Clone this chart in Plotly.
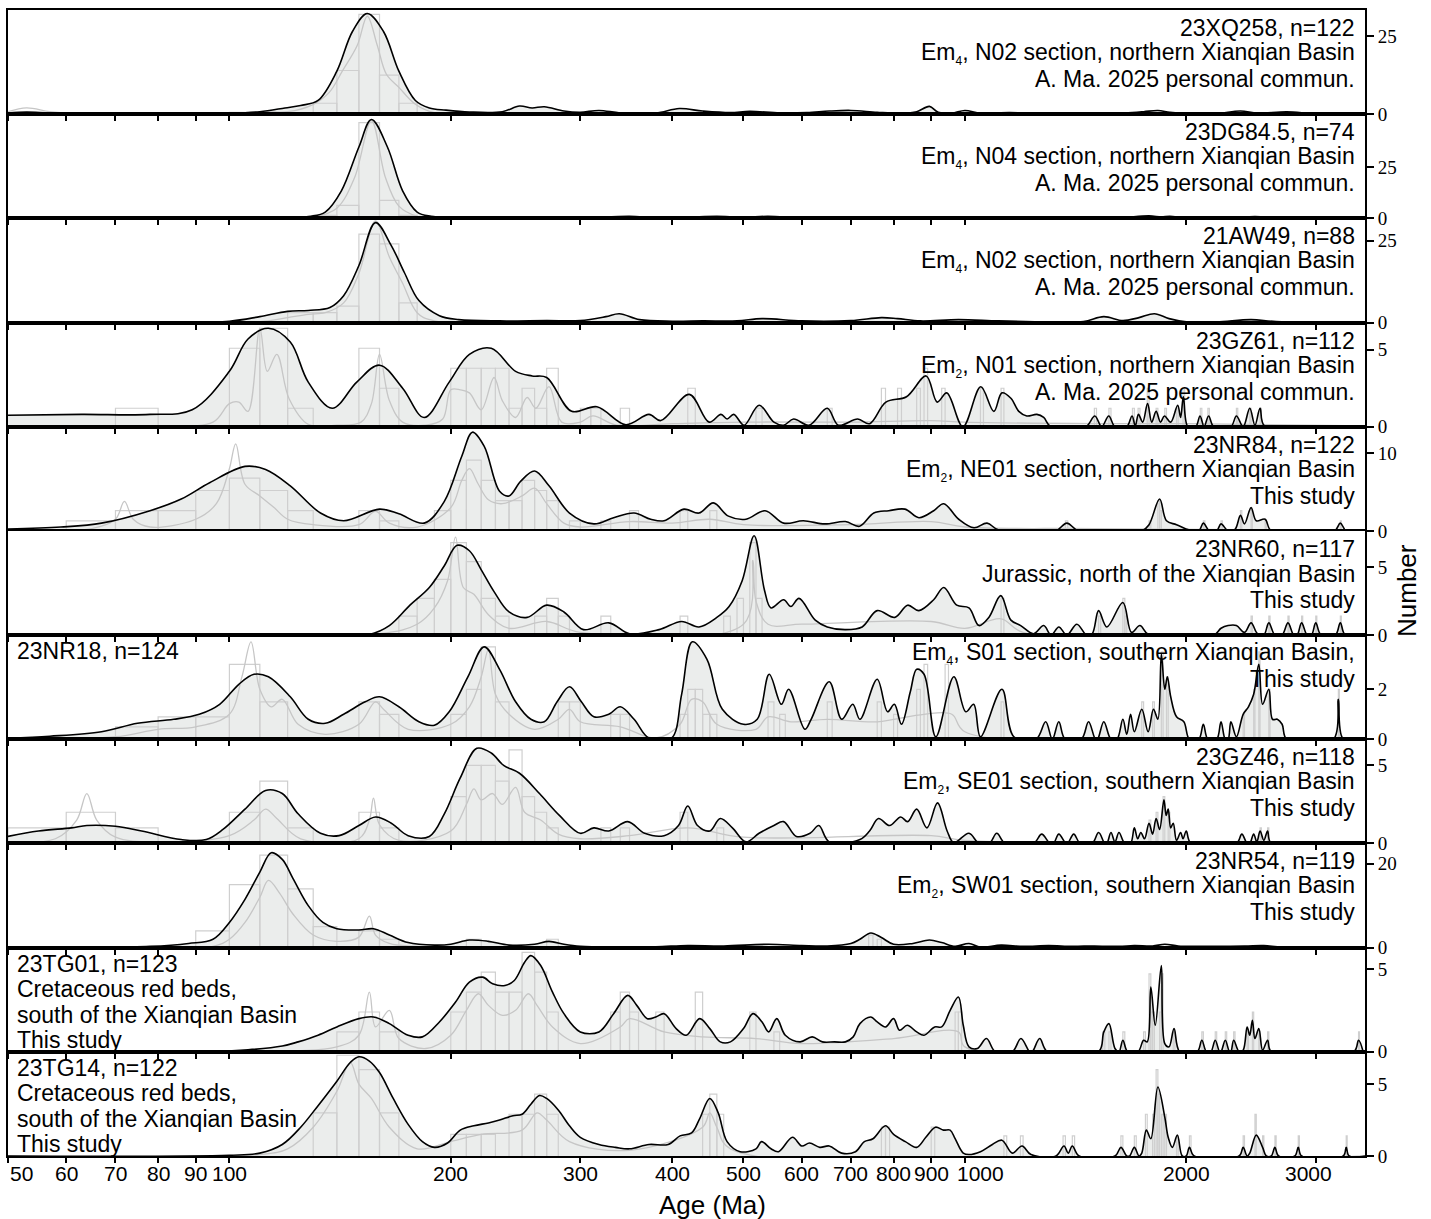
import math
import plotly.graph_objects as go
from plotly.subplots import make_subplots

# ---------------- data: KDE curves (age in Ma, density) ----------------
kde_23XQ258 = [(50,0.4),(53,0.7),(57,0.4),(65,0.15),(80,0.1),(100,0.3),(110,0.8),(119,2.0),(125,2.8),(132,4.4),
               (140,13.8),(147,26.5),(154,32.3),(162,26.5),(170,13.8),(179,4.4),(187,2.0),(197,1.3),(212,0.7),
               (235,0.8),(248,2.6),(258,2.0),(268,2.4),(285,1.0),(300,0.6),(318,1.2),(340,0.4),(380,0.3),(409,1.8),
               (440,1.0),(480,0.5),(510,0.9),(560,0.4),(610,0.5),(654,1.0),(700,1.2),(760,0.6),(820,0.3),(860,0.8),
               (895,2.5),(920,0.6),(960,0.3),(1000,1.2),(1050,0.3),(1150,0.5),(1250,0.2),(1500,0.2),(1650,0.4),
               (1750,0.8),(1830,1.2),(1900,0.6),(2000,0.2),(2200,0.2),(2370,1.0),(2500,0.3),(2740,0.8),(3000,0.1),(3500,0.05)]
kde_23DG84_5 = [(50,0.1),(80,0.05),(100,0.1),(115,0.2),(122,0.4),(129,1.0),(135,3.1),(142,13.5),(150,35),(156,48.5),
                (164,35),(172,13.5),(180,3.1),(188,1.0),(199,0.4),(230,0.3),(260,0.5),(300,0.3),(350,1.0),(380,0.4),
                (430,0.7),(460,1.0),(500,0.6),(540,1.0),(600,0.3),(700,0.2),(850,0.4),(1000,0.3),(1200,0.1),(1600,0.2),
                (1780,1.2),(1850,0.7),(1900,1.0),(2000,0.2),(2300,0.2),(2480,0.9),(2700,0.1),(3500,0.05)]
kde_21AW49 = [(50,0.1),(80,0.1),(100,0.4),(110,1.8),(120,3.4),(128,3.7),(137,4.6),(143,8.2),(150,17.4),(158,30.5),
              (166,23.5),(173,15.2),(181,6.7),(193,2.1),(205,0.9),(233,0.5),(270,0.6),(300,0.6),(325,1.8),(339,2.7),
              (361,0.9),(400,0.4),(440,0.5),(490,0.5),(530,1.2),(600,0.5),(700,0.6),(770,1.5),(810,1.2),(870,0.5),
              (980,0.9),(1110,0.5),(1300,0.2),(1450,0.3),(1545,1.8),(1640,0.6),(1725,1.5),(1810,2.7),(1895,1.2),
              (2000,0.2),(2200,0.2),(2450,0.9),(2650,0.3),(3500,0.05)]
kde_23GZ61 = [(50,0.75),(63,0.8),(78,0.8),(89,1.1),(100,3.6),(106,5.7),(113,6.4),(121,5.5),(128,2.9),(138,1.2),
              (149,2.9),(160,4.0),(172,2.5),(184,0.6),(199,2.9),(212,4.7),(227,5.1),(245,3.6),(258,3.3),(270,3.2),
              (292,1.0),(316,1.3),(346,0.13),(372,0.8),(386,0.4),(422,2.1),(449,0.3),(466,0.8),(475,0.5),(485,0.8),
              (501,0.1),(525,1.4),(550,0.3),(567,0.1),(585,0.5),(614,0.1),(650,1.2),(673,0.1),(715,0.5),(742,0.2),
              (781,1.6),(833,1.95),(886,3.3),(917,1.6),(945,2.2),(994,0.0),(1051,2.6),(1095,1.0),(1123,2.2),
              (1155,1.85),(1184,1.0),(1214,0.7),(1253,0.8),(1280,0.6),(1309,0.0),(1460,0.0),(1502,0.7),(1535,0.0),
              (1569,0.7),(1600,0.0),(1660,0.0),(1688,0.7),(1705,0.05),(1722,0.8),(1745,0.3),(1772,1.5),(1795,0.3),
              (1820,1.0),(1845,0.3),(1868,0.7),(1905,0.3),(1947,1.4),(1965,0.6),(1982,1.95),(2010,0.0),(2060,0.0),
              (2088,0.7),(2115,0.0),(2145,0.7),(2180,0.0),(2300,0.0),(2340,0.7),(2390,0.0),(2440,1.2),(2480,0.1),
              (2520,1.2),(2560,0.0),(3500,0.0)]
kde_23NR84 = [(50,0.25),(59,0.5),(67,1.0),(78,2.6),(86,4.1),(94,6.2),(105,8.3),(112,7.9),(121,5.8),(133,2.3),
              (143,1.3),(160,2.8),(170,2.2),(184,1.0),(196,3.8),(207,9.6),(214,12.7),(222,10.9),(233,5.1),(240,4.5),
              (249,6.4),(260,7.7),(272,5.8),(290,2.3),(313,0.9),(333,1.7),(355,2.3),(374,1.5),(390,1.3),(415,2.8),
              (435,2.3),(455,3.6),(477,1.9),(504,1.5),(535,2.6),(567,1.0),(603,1.3),(645,0.9),(688,1.2),(719,0.6),
              (752,2.3),(788,2.6),(829,2.8),(866,1.7),(907,2.6),(936,3.5),(981,1.5),(1029,0.4),(1072,1.0),(1112,0.1),
              (1260,0.1),(1330,0.0),(1376,1.0),(1428,0.0),(1740,0.0),(1780,0.8),(1840,4.1),(1880,1.3),(1940,0.8),
              (2020,0.1),(2080,0.0),(2110,1.0),(2150,0.0),(2200,0.0),(2230,0.9),(2280,0.0),(2330,0.2),(2370,2.0),
              (2400,0.9),(2450,3.0),(2490,1.3),(2560,1.5),(2610,0.0),(3180,0.0),(3240,1.0),(3300,0.0),(3500,0.0)]
kde_23NR60 = [(50,0.0),(140,0.0),(155,0.05),(165,0.7),(176,2.2),(187,3.5),(196,5.1),(204,6.6),(212,6.2),(220,4.8),
              (229,3.2),(240,1.7),(254,1.3),(270,2.2),(285,1.7),(303,0.4),(328,0.9),(350,0.1),(384,0.4),(412,1.0),
              (435,0.6),(460,1.3),(478,2.1),(498,4.0),(517,7.3),(534,3.3),(545,2.0),(567,2.6),(580,2.1),(595,2.7),
              (626,1.1),(650,0.6),(688,0.4),(725,0.6),(760,1.8),(803,1.3),(836,2.2),(866,1.8),(907,2.6),(936,3.5),
              (975,2.2),(1013,2.0),(1045,0.7),(1078,1.3),(1119,2.9),(1155,1.1),(1191,0.7),(1240,0.1),(1280,0.7),
              (1310,0.0),(1342,0.6),(1376,0.0),(1420,0.8),(1464,0.0),(1490,0.1),(1520,1.8),(1560,0.6),(1640,2.4),
              (1685,0.2),(1730,0.7),(1780,0.0),(2180,0.0),(2230,0.5),(2280,0.7),(2340,0.7),(2400,0.2),(2450,0.9),
              (2500,0.1),(2550,0.0),(2590,0.9),(2640,0.0),(2700,0.0),(2750,0.9),(2800,0.0),(2830,0.0),(2870,0.9),
              (2920,0.0),(2960,0.0),(3000,0.9),(3050,0.0),(3190,0.0),(3240,0.9),(3290,0.0),(3500,0.0)]
kde_23NR18 = [(50,0.04),(57,0.12),(67,0.3),(75,0.64),(84,0.8),(91,1.0),(97,1.4),(103,2.2),(108,2.6),(113,2.5),
              (121,1.7),(128,0.8),(135,0.64),(143,1.0),(153,1.5),(160,1.7),(170,1.3),(181,0.7),(190,0.56),(199,1.1),
              (211,2.5),(222,3.7),(233,2.8),(245,1.5),(257,0.8),(268,0.7),(279,1.5),(290,2.1),(301,1.5),(313,0.9),
              (328,1.0),(340,1.3),(355,0.8),(372,0.04),(399,0.04),(412,1.8),(426,3.9),(446,3.2),(468,1.2),(500,0.6),
              (522,0.8),(542,2.6),(563,1.4),(576,2.0),(606,0.4),(618,0.8),(654,2.3),(680,0.8),(704,1.4),(720,0.8),
              (760,2.4),(785,1.1),(802,1.4),(820,0.6),(843,1.9),(860,2.8),(880,2.6),(913,0.1),(966,2.5),(1003,1.1),
              (1028,1.4),(1050,0.1),(1123,2.0),(1166,0.1),(1250,0.0),(1288,0.7),(1315,0.0),(1342,0.7),(1369,0.0),
              (1440,0.0),(1473,0.7),(1505,0.0),(1515,0.0),(1545,0.7),(1580,0.0),(1610,0.0),(1640,0.8),(1660,0.2),
              (1680,1.0),(1700,0.3),(1740,1.2),(1775,0.3),(1805,1.2),(1830,0.8),(1850,3.4),(1870,2.0),(1885,2.5),
              (1905,1.7),(1940,0.9),(1985,0.7),(2020,0.0),(2080,0.0),(2110,0.6),(2140,0.0),(2200,0.0),(2230,0.7),
              (2260,0.0),(2280,0.0),(2300,0.7),(2340,0.1),(2390,1.0),(2430,1.3),(2470,1.8),(2510,3.0),(2540,1.4),
              (2590,2.0),(2620,0.8),(2660,0.8),(2700,0.6),(2740,0.0),(3170,0.0),(3220,1.6),(3270,0.0),(3500,0.0)]
kde_23GZ46 = [(50,0.45),(55,0.8),(61,1.0),(64,1.15),(70,1.1),(76,0.8),(86,0.25),(93,0.25),(98,0.9),(105,2.2),
              (112,3.4),(118,3.2),(124,1.9),(133,0.65),(141,0.5),(150,1.15),(158,1.7),(166,1.3),(175,0.5),(187,0.45),
              (196,1.9),(206,4.2),(217,6.1),(227,5.8),(236,5.0),(248,4.5),(264,3.2),(281,1.8),(300,0.65),(313,1.0),
              (328,0.8),(348,1.4),(367,0.65),(390,0.5),(408,1.15),(420,2.4),(433,1.15),(450,0.8),(465,1.6),(483,1.0),
              (504,0.1),(525,0.65),(550,1.15),(567,1.4),(590,0.45),(616,0.65),(633,1.15),(654,0.1),(720,0.25),
              (742,0.8),(763,1.6),(790,1.15),(818,1.7),(836,1.4),(860,2.2),(888,1.0),(918,2.6),(946,0.8),(966,0.05),
              (1013,0.65),(1045,0.0),(1080,0.0),(1105,0.65),(1135,0.0),(1240,0.0),(1272,0.6),(1305,0.0),(1320,0.0),
              (1342,0.6),(1372,0.0),(1380,0.0),(1406,0.6),(1435,0.0),(1490,0.0),(1520,0.7),(1550,0.0),(1560,0.0),
              (1580,0.7),(1600,0.1),(1620,0.7),(1650,0.0),(1680,0.0),(1700,1.0),(1718,0.3),(1735,0.7),(1755,0.3),
              (1780,1.3),(1800,0.6),(1820,1.6),(1840,0.9),(1865,2.8),(1878,1.8),(1890,2.2),(1905,1.0),(1920,1.3),
              (1940,0.2),(1965,0.7),(1980,0.3),(2000,0.8),(2030,0.0),(2340,0.0),(2380,0.6),(2420,0.0),(2440,0.0),
              (2470,0.6),(2495,0.1),(2520,0.8),(2550,0.2),(2580,0.8),(2610,0.0),(3500,0.0)]
kde_23NR54 = [(50,0.0),(78,0.3),(88,1.0),(95,2.0),(100,6.0),(105,11.5),(110,18.0),(114,22.6),(118,21.0),(122,16.5),
              (128,10.0),(134,6.0),(140,4.5),(150,4.2),(157,4.5),(165,3.0),(175,1.2),(190,0.6),(200,0.8),(212,1.8),
              (225,1.5),(240,0.6),(260,0.8),(272,1.5),(285,0.8),(300,0.3),(330,0.1),(380,0.2),(420,0.5),(470,0.4),
              (541,0.8),(600,0.5),(650,0.4),(700,1.0),(720,2.0),(745,3.5),(770,2.4),(800,0.8),(850,1.0),(895,1.8),
              (930,1.2),(970,0.3),(1013,1.0),(1050,0.1),(1120,0.6),(1200,0.3),(1300,0.5),(1400,0.3),(1500,0.4),
              (1620,0.3),(1700,0.5),(1800,0.4),(1870,0.8),(1950,0.4),(2050,0.3),(2400,0.4),(2550,0.5),(2700,0.1),
              (3500,0.0)]
kde_23TG01 = [(50,0.0),(95,0.02),(106,0.12),(118,0.35),(124,0.6),(132,1.0),(140,1.5),(150,2.0),(157,2.1),(165,1.7),
              (175,1.0),(183,0.9),(193,1.8),(203,3.0),(212,4.2),(221,4.5),(228,4.1),(237,4.0),(244,4.3),(252,5.4),
              (257,5.8),(265,5.2),(275,3.6),(285,2.3),(300,1.2),(318,1.2),(333,2.3),(348,3.4),(358,2.8),(370,2.0),
              (380,2.1),(390,2.3),(405,1.4),(418,1.0),(436,2.0),(450,1.4),(465,0.6),(480,0.6),(500,1.4),(515,2.3),
              (530,1.8),(541,1.2),(555,2.0),(570,1.0),(597,0.6),(620,0.9),(640,0.6),(665,0.6),(688,0.6),(705,0.9),
              (720,1.7),(745,2.1),(760,1.8),(780,1.5),(800,2.0),(815,1.3),(835,1.6),(860,1.2),(880,1.0),(910,1.5),
              (930,1.5),(955,2.5),(980,3.3),(995,1.6),(1013,0.3),(1040,0.2),(1070,0.8),(1100,0.0),(1160,0.0),
              (1192,0.8),(1225,0.0),(1235,0.0),(1264,0.8),(1295,0.0),(1520,0.0),(1545,1.2),(1570,1.7),(1600,0.2),
              (1620,0.0),(1640,0.7),(1665,0.0),(1720,0.0),(1750,0.7),(1770,0.6),(1790,3.9),(1815,1.6),(1850,5.2),
              (1870,0.5),(1895,0.3),(1925,1.4),(1960,0.0),(2070,0.0),(2100,0.7),(2130,0.0),(2160,0.0),(2190,0.7),
              (2220,0.0),(2230,0.0),(2260,0.7),(2290,0.0),(2300,0.0),(2320,0.7),(2360,0.0),(2390,0.1),(2420,1.5),
              (2440,1.0),(2460,1.9),(2480,0.8),(2510,1.4),(2540,0.1),(2580,0.7),(2610,0.0),(3380,0.0),(3430,0.7),
              (3480,0.0)]
kde_23TG14 = [(50,0.0),(100,0.05),(110,0.2),(118,0.8),(125,2.0),(132,3.5),(140,5.2),(146,6.5),(150,6.9),(155,6.6),
              (160,5.8),(167,4.0),(175,2.2),(183,1.0),(190,0.6),(198,0.9),(206,1.8),(215,2.1),(225,2.3),(233,2.5),
              (243,2.8),(250,2.9),(257,3.6),(264,4.2),(270,4.0),(280,3.2),(290,2.1),(300,1.3),(318,0.8),(335,0.6),
              (350,0.5),(372,0.8),(395,0.8),(410,1.4),(425,1.6),(436,2.6),(450,4.0),(462,3.0),(475,1.0),(495,0.3),
              (520,0.5),(529,1.0),(545,0.5),(558,0.3),(583,1.3),(600,0.7),(615,0.9),(635,0.6),(654,0.7),(680,0.2),
              (710,0.3),(730,1.0),(750,1.2),(780,2.1),(800,1.5),(830,1.0),(860,0.6),(885,1.3),(912,2.0),(935,1.8),
              (955,1.8),(970,1.2),(995,0.2),(1013,0.1),(1050,0.3),(1090,0.8),(1123,1.1),(1160,0.2),(1196,0.7),
              (1230,0.1),(1330,0.0),(1364,0.7),(1382,0.2),(1400,0.7),(1430,0.0),(1600,0.0),(1630,0.6),(1660,0.0),
              (1675,0.0),(1700,0.6),(1725,0.0),(1740,0.2),(1765,1.8),(1790,1.2),(1830,4.8),(1870,2.7),(1890,1.3),
              (1915,0.6),(1945,1.45),(1975,0.0),(2000,0.0),(2020,0.6),(2050,0.0),(2360,0.0),(2390,0.6),(2420,0.0),
              (2440,0.2),(2490,1.45),(2540,0.6),(2570,0.0),(2610,0.0),(2640,0.6),(2670,0.0),(2810,0.0),(2840,0.6),
              (2870,0.0),(3270,0.0),(3300,0.6),(3330,0.0),(3500,0.0)]

# ---------------- data: PDP curves (thin grey lines), age in Ma ----------------
pdp_23XQ258 = [(50,0.8),(53,2.0),(57,0.8),(62,0.1),(100,0.1),(112,0.8),(120,0.8),(129.7,3.0),(136.7,7),(142.4,13.8),
               (149.2,22),(154,31.4),(158.9,22),(163.5,12.8),(170,8.6),(179,3.2),(190,0.5),(220,0.3),(3500,0.0)]
pdp_23DG84_5 = [(50,0.0),(125,0.1),(130,0.5),(140,5),(148,20),(156,48),(163,20),(170,6),(180,1),(190,0.2),(3500,0.0)]
pdp_21AW49 = [(50,0.0),(110,0.3),(120,1.5),(128,2.5),(135,3),(143,6),(150,15),(158,31),(165,20),(172,12),(180,3),
              (190,0.5),(3500,0.0)]
pdp_23GZ61 = [(50,0.05),(80,0.05),(95,0.3),(100,1.5),(103,1.6),(106,1.0),(110,6.4),(112.6,3.6),(116,4.7),(120.6,1.8),
              (128,0.15),(140,0.1),(151,0.3),(156,1.5),(160,4.7),(165,1.7),(172,0.3),(185,0.1),(195,0.5),(200,2.4),
              (206,2.4),(212,2.2),(220,1.1),(229,3.2),(235,1.7),(245,0.6),(254,1.9),(261,1.2),(272,2.6),(283,0.3),
              (300,0.3),(312,0.7),(336,0.1),(400,0.2),(500,0.3),(700,0.3),(900,0.4),(1000,0.3),(1500,0.2),
              (2000,0.2),(3500,0.05)]
pdp_23NR84 = [(50,0.1),(65,0.3),(70,1.5),(72,3.8),(74,1.5),(78,0.5),(90,1.5),(96,3.5),(100,8),(102,11.2),(105,6),
              (110,4.5),(115,3),(120,1.5),(130,0.8),(150,0.8),(158,2.5),(165,1.0),(180,0.5),(200,3.0),(207,6.5),
              (212,8.0),(218,6.0),(225,4.0),(235,3.5),(250,4.5),(260,5.5),(270,3.5),(285,1.0),(300,0.5),(350,1.2),
              (400,1.0),(450,1.5),(500,0.8),(700,0.8),(900,1.2),(1000,0.5),(1500,0.3),(3500,0.05)]
pdp_23NR60 = [(50,0.0),(160,0.1),(180,0.8),(190,2.0),(198,4.0),(203,7.2),(208,3.5),(215,3.0),(225,1.5),(240,0.5),
              (270,1.0),(300,0.2),(500,0.8),(515,5.5),(520,2.5),(540,0.8),(600,0.8),(900,1.0),(1000,0.5),(1120,1.2),
              (1200,0.2),(3500,0.0)]
pdp_23NR18 = [(50,0.02),(70,0.1),(80,0.4),(90,0.5),(100,1.0),(104,2.5),(107,3.9),(110,2.0),(114,1.3),(118,1.6),
              (124,0.6),(135,0.2),(150,0.6),(158,1.5),(162,1.2),(175,0.4),(200,0.6),(212,1.3),(220,2.5),(225,3.6),
              (230,1.8),(240,1.0),(260,0.4),(280,0.8),(290,1.2),(300,0.7),(340,0.5),(380,0.05),(410,0.6),(425,1.6),
              (440,1.5),(460,0.6),(520,0.4),(540,0.9),(580,0.7),(650,0.8),(760,0.7),(880,1.0),(960,1.0),(1000,0.3),
              (3500,0.0)]
pdp_23GZ46 = [(50,0.1),(58,0.3),(62,1.5),(64,3.2),(66,1.5),(70,0.4),(80,0.1),(100,0.5),(108,1.5),(112,2.2),(116,1.6),
              (125,0.3),(150,0.3),(155,1.5),(157,2.9),(160,1.2),(170,0.2),(200,0.8),(210,2.5),(215,3.5),(220,2.8),
              (228,3.2),(235,2.5),(245,3.6),(252,2.0),(265,1.5),(280,0.6),(300,0.3),(350,0.5),(420,1.0),(500,0.4),
              (900,0.5),(1000,0.2),(3500,0.0)]
pdp_23NR54 = [(50,0.0),(95,0.3),(100,2),(105,6),(110,12),(113,16),(117,13),(122,8),(130,3),(140,1.5),(150,2.5),
              (155,7.5),(158,3),(165,1),(180,0.3),(3500,0.0)]
pdp_23TG01 = [(50,0.0),(100,0.05),(140,0.3),(150,1.0),(155,3.6),(158,1.5),(165,2.5),(170,0.8),(185,0.2),(200,1.0),
              (210,2.5),(218,3.5),(225,2.8),(235,2.2),(245,2.5),(255,3.5),(262,2.8),(275,1.5),(300,0.5),(340,1.5),
              (350,2.0),(390,1.2),(440,0.9),(520,0.8),(600,0.5),(800,0.8),(980,1.2),(1000,0.3),(3500,0.0)]
pdp_23TG14 = [(50,0.0),(110,0.1),(120,0.5),(130,2),(140,4.5),(146,6.5),(150,5),(156,4),(165,2),(180,0.5),(200,1),
              (220,1.5),(250,1.8),(262,3),(270,2.5),(290,1),(350,0.4),(440,2),(450,3),(460,2),(480,0.5),(3500,0.0)]

# ---------------- data: histogram bins (bin start, bin end, height in axis units) ----------------
hist_23XQ258 = [(100,110,0.6),(130,140,3.5),(140,150,14),(150,160,32),(160,170,12.5),(170,180,3.5)]
hist_23DG84_5 = [(130,140,1.5),(140,150,6.4),(150,160,47),(160,170,8.8),(170,180,1.5)]
hist_21AW49 = [(120,130,3),(130,140,3),(140,150,5),(150,160,27),(160,170,24),(170,180,6)]
hist_23GZ61 = [(70,80,1.2),(100,110,5.1),(110,120,6.4),(120,130,1.2),(150,160,5.1),(160,170,2.5),(200,210,3.8),
               (210,220,3.8),(220,230,3.8),(230,240,3.8),(240,250,1.2),(250,260,2.5),(260,270,1.2),(270,280,3.8),
               (300,310,1.2),(310,320,1.2),(340,350,1.2),(420,430,2.5),(520,530,1.2),(650,660,1.2),(770,780,2.5),
               (810,820,2.5),(860,870,2.5),(880,890,3.8),(930,940,2.5),(1050,1060,2.5),(1120,1130,2.5),
               (1500,1510,1.2),(1570,1580,1.2),(1690,1700,1.2),(1720,1730,1.2),(1770,1780,2.5),(1820,1830,1.2),
               (1870,1880,1.2),(1940,1950,1.2),(1980,1990,2.5),(2090,2100,1.2),(2140,2150,1.2),(2340,2350,1.2),
               (2440,2450,1.2),(2520,2530,1.2)]
hist_23NR84 = [(60,70,1.3),(70,80,2.6),(80,90,2.6),(90,100,5.2),(100,110,6.8),(110,120,5.2),(120,130,2.6),
               (150,160,2.6),(160,170,1.3),(190,200,2.6),(200,210,6.5),(210,220,9.1),(220,230,6.5),(230,240,3.9),
               (240,250,3.9),(250,260,6.5),(260,270,5.2),(270,280,3.9),(290,300,1.3),(320,330,1.3),(350,360,2.6),
               (410,420,2.6),(450,460,2.6),(1370,1380,1.3),(1780,1790,1.3),(1830,1840,3.9),(1840,1850,2.6),
               (2110,2120,1.3),(2230,2240,1.3),(2370,2380,2.6),(2450,2460,2.6),(2560,2570,1.3),(3240,3250,1.3)]
hist_23NR60 = [(170,180,1.4),(180,190,2.7),(190,200,4.1),(200,210,6.8),(210,220,5.4),(220,230,2.7),(230,240,1.4),
               (260,270,1.4),(270,280,2.7),(280,290,1.4),(320,330,1.4),(410,420,1.4),(470,480,1.4),(490,500,2.7),
               (510,520,6.8),(520,530,2.7),(1120,1130,2.7),(1520,1530,1.4),(1640,1650,2.7),(1650,1660,1.4),
               (2450,2460,1.4),(2590,2600,1.4),(2750,2760,1.4),(2870,2880,1.4),(3000,3010,1.4),(3240,3250,1.4)]
hist_23NR18 = [(70,80,0.5),(80,90,0.9),(90,100,0.9),(100,110,3.0),(110,120,1.5),(150,160,1.5),(160,170,1.0),
               (200,210,1.0),(210,220,2.0),(220,230,3.7),(230,240,1.5),(280,290,1.5),(290,300,1.5),(330,340,1.0),
               (340,350,1.0),(410,420,1.0),(420,430,2.0),(430,440,2.0),(440,450,1.0),(450,460,1.0),(540,550,1.5),
               (560,570,1.0),(650,660,1.5),(760,770,1.5),(800,810,1.0),(860,870,2.0),(880,890,3.0),(940,950,3.0),
               (1120,1130,1.5),(1740,1750,1.5),(1800,1810,1.5),(1850,1860,3.5),(1880,1890,2.5),(2390,2400,1.0),
               (2470,2480,2.0),(2510,2520,3.5),(2590,2600,2.0),(3220,3230,2.0)]
hist_23GZ46 = [(50,60,1.0),(60,70,2.0),(70,80,1.0),(100,110,2.0),(110,120,4.0),(120,130,1.0),(150,160,2.0),
               (160,170,1.0),(200,210,3.0),(210,220,5.0),(220,230,5.0),(230,240,4.0),(240,250,6.0),(250,260,3.0),
               (260,270,2.0),(270,280,1.0),(320,330,1.0),(340,350,1.0),(410,420,2.0),(460,470,1.0),(1780,1790,1.5),
               (1820,1830,2.0),(1860,1870,3.0),(1890,1900,2.0),(2520,2530,1.0),(2580,2590,1.0)]
hist_23NR54 = [(90,100,4),(100,110,15),(110,120,22),(120,130,14),(130,140,5),(150,160,4),(160,170,2),(210,220,2),
               (270,280,2),(740,750,3),(760,770,2)]
hist_23TG01 = [(140,150,1.2),(150,160,2.4),(160,170,1.2),(200,210,2.4),(210,220,3.6),(220,230,4.8),(230,240,3.6),
               (240,250,3.6),(250,260,6.0),(260,270,4.8),(270,280,2.4),(330,340,2.4),(340,350,3.6),(350,360,2.4),
               (380,390,2.4),(430,440,3.6),(510,520,2.4),(550,560,1.2),(970,980,2.4),(980,990,2.4),(1540,1550,1.2),
               (1570,1580,1.2),(1640,1650,1.2),(1750,1760,1.2),(1780,1790,4.7),(1790,1800,2.4),(1800,1810,2.4),
               (1840,1850,2.4),(1850,1860,4.7),(1920,1930,1.2),(2100,2110,1.2),(2190,2200,1.2),(2260,2270,1.2),
               (2320,2330,1.2),(2420,2430,1.2),(2460,2470,2.4),(2510,2520,1.2),(2580,2590,1.2),(3430,3440,1.2)]
hist_23TG14 = [(130,140,3),(140,150,7),(150,160,6),(160,170,3),(200,210,1.5),(210,220,1.5),(220,230,1.5),
               (240,250,2.9),(250,260,2.9),(260,270,4.3),(270,280,2.9),(440,450,2.9),(450,460,4.3),(460,470,2.9),
               (770,780,2.0),(780,790,2.0),(900,910,2.0),(1130,1140,1.4),(1190,1200,1.4),(1360,1370,1.4),
               (1400,1410,1.4),(1630,1640,1.4),(1700,1710,1.4),(1760,1770,2.9),(1800,1810,2.9),(1820,1830,6.0),
               (1830,1840,4.3),(1850,1860,2.9),(1870,1880,2.9),(1940,1950,1.4),(2020,2030,1.4),(2390,2400,1.4),
               (2480,2490,2.9),(2540,2550,1.4),(2640,2650,1.4),(2840,2850,1.4),(3300,3310,1.4)]

kde_curves = [kde_23XQ258, kde_23DG84_5, kde_21AW49, kde_23GZ61, kde_23NR84, kde_23NR60,
              kde_23NR18, kde_23GZ46, kde_23NR54, kde_23TG01, kde_23TG14]
pdp_curves = [pdp_23XQ258, pdp_23DG84_5, pdp_21AW49, pdp_23GZ61, pdp_23NR84, pdp_23NR60,
              pdp_23NR18, pdp_23GZ46, pdp_23NR54, pdp_23TG01, pdp_23TG14]
hist_bins = [hist_23XQ258, hist_23DG84_5, hist_21AW49, hist_23GZ61, hist_23NR84, hist_23NR60,
             hist_23NR18, hist_23GZ46, hist_23NR54, hist_23TG01, hist_23TG14]

y_max = [33.4, 51.1, 31.8, 6.77, 13.4, 7.66, 4.17, 6.68, 24.8, 6.28, 7.24]
y_tick = [25, 25, 25, 5, 10, 5, 2, 5, 20, 5, 5]

x_tick_vals = [50, 60, 70, 80, 90, 100, 200, 300, 400, 500, 600, 700, 800, 900, 1000, 2000, 3000]
x_tick_text = ["50", "60", "70", "80", "90", "100", "200", "300", "400", "500", "600", "700", "800", "900",
               "1000", "2000", "3000"]
# small horizontal nudges of crowded labels, as in the original
x_tick_nudge = {1000: 16, 3000: -7}

SUB4 = '<sub><span style="font-size:12px">4</span></sub>'
SUB2 = '<sub><span style="font-size:12px">2</span></sub>'
right_labels = [
    ["23XQ258, n=122", "Em" + SUB4 + ", N02 section, northern Xianqian Basin", "A. Ma. 2025 personal commun."],
    ["23DG84.5, n=74", "Em" + SUB4 + ", N04 section, northern Xianqian Basin", "A. Ma. 2025 personal commun."],
    ["21AW49, n=88", "Em" + SUB4 + ", N02 section, northern Xianqian Basin", "A. Ma. 2025 personal commun."],
    ["23GZ61, n=112", "Em" + SUB2 + ", N01 section, northern Xianqian Basin", "A. Ma. 2025 personal commun."],
    ["23NR84, n=122", "Em" + SUB2 + ", NE01 section, northern Xianqian Basin", "This study"],
    ["23NR60, n=117", "Jurassic, north of the Xianqian Basin", "This study"],
    ["Em" + SUB4 + ", S01 section, southern Xianqian Basin,", "This study"],
    ["23GZ46, n=118", "Em" + SUB2 + ", SE01 section, southern Xianqian Basin", "This study"],
    ["23NR54, n=119", "Em" + SUB2 + ", SW01 section, southern Xianqian Basin", "This study"],
    [],
    [],
]
left_labels = [[], [], [], [], [], [], ["23NR18, n=124"], [], [],
               ["23TG01, n=123", "Cretaceous red beds,", "south of the Xianqian Basin", "This study"],
               ["23TG14, n=122", "Cretaceous red beds,", "south of the Xianqian Basin", "This study"]]

# ---------------- layout geometry (pixels) ----------------
W, H = 1431, 1219
L, R, T, B = 8, 1365, 10, 1156
N = len(kde_curves)
PANEL_H = (B - T) / N

SANS = "Liberation Sans, Arial, sans-serif"
SERIF = "Liberation Serif, DejaVu Serif, serif"
FILL = "#ebedec"
HIST_LINE = "#cfcfcf"
PDP_LINE = "#c6c6c6"


def px(xp, yp):
    return (xp - L) / (R - L), (B - yp) / (B - T)


fig = make_subplots(rows=N, cols=1, shared_xaxes=True, vertical_spacing=0)

for i in range(N):
    kde = kde_curves[i]
    ages = [a for a, v in kde]
    vals = [v for a, v in kde]
    # filled KDE body
    fig.add_trace(go.Scatter(x=ages, y=vals, mode="lines",
                             line=dict(color="rgba(0,0,0,0)", width=0, shape="spline", smoothing=1.0),
                             fill="tozeroy", fillcolor=FILL, hoverinfo="skip", showlegend=False),
                  row=i + 1, col=1)
    # histogram outlines
    hx, hy = [], []
    for a0, a1, h in hist_bins[i]:
        hx += [a0, a0, a1, a1, None]
        hy += [0, h, h, 0, None]
    if hx:
        fig.add_trace(go.Scatter(x=hx, y=hy, mode="lines", line=dict(color=HIST_LINE, width=1.2),
                                 hoverinfo="skip", showlegend=False), row=i + 1, col=1)
    # PDP line
    pdp = pdp_curves[i]
    fig.add_trace(go.Scatter(x=[a for a, v in pdp], y=[v for a, v in pdp], mode="lines",
                             line=dict(color=PDP_LINE, width=1.3, shape="spline", smoothing=1.0),
                             hoverinfo="skip", showlegend=False), row=i + 1, col=1)
    # KDE outline
    fig.add_trace(go.Scatter(x=ages, y=vals, mode="lines",
                             line=dict(color="black", width=1.6, shape="spline", smoothing=1.0),
                             hoverinfo="skip", showlegend=False),
                  row=i + 1, col=1)
    fig.update_xaxes(type="log", range=[math.log10(50), math.log10(3500)],
                     tickmode="array", tickvals=x_tick_vals, showticklabels=False,
                     ticks="outside", ticklen=5, tickwidth=1.5, tickcolor="black",
                     showline=True, mirror=True, linecolor="black", linewidth=2,
                     showgrid=False, zeroline=False, automargin=False,
                     row=i + 1, col=1)
    fig.update_yaxes(range=[0, y_max[i]], tickmode="array", tickvals=[0, y_tick[i]],
                     side="right", ticks="outside", ticklen=7, tickwidth=1.5, tickcolor="black",
                     showline=True, mirror=True, linecolor="black", linewidth=2,
                     showgrid=False, zeroline=False, automargin=False,
                     tickfont=dict(family=SERIF, size=19, color="black"),
                     row=i + 1, col=1)

annotations = []
for i in range(N):
    top = T + i * PANEL_H
    for j, txt in enumerate(right_labels[i]):
        xp, yp = px(1357, top + 18 + 25.5 * j)
        annotations.append(dict(x=xp, y=yp, xref="paper", yref="paper", text=txt, showarrow=False,
                                xanchor="right", yanchor="middle",
                                font=dict(family=SANS, size=23, color="black")))
    for j, txt in enumerate(left_labels[i]):
        xp, yp = px(15, top + 16 + 25.5 * j)
        annotations.append(dict(x=xp, y=yp, xref="paper", yref="paper", text=txt, showarrow=False,
                                xanchor="left", yanchor="middle",
                                font=dict(family=SANS, size=23, color="black")))

# bottom x tick labels, placed on the bottom axis' own log scale
bottom_x = "x%d" % N
_, yp_lab = px(0, 1173)
for v, t in zip(x_tick_vals, x_tick_text):
    annotations.append(dict(x=math.log10(v), y=yp_lab, xref=bottom_x, yref="paper", text=t, showarrow=False,
                            xanchor=("left" if v == 50 else "center"), yanchor="middle",
                            xshift=x_tick_nudge.get(v, 0),
                            font=dict(family=SANS, size=21, color="black")))
# axis titles
xp, yp = px(712, 1205)
annotations.append(dict(x=xp, y=yp, xref="paper", yref="paper", text="Age (Ma)", showarrow=False,
                        xanchor="center", yanchor="middle", font=dict(family=SANS, size=26, color="black")))
xp, yp = px(1407, 590)
annotations.append(dict(x=xp, y=yp, xref="paper", yref="paper", text="Number", showarrow=False,
                        textangle=-90, xanchor="center", yanchor="middle",
                        font=dict(family=SANS, size=26, color="black")))

fig.update_layout(template="none", width=W, height=H,
                  margin=dict(l=L, r=W - R, t=T, b=H - B, pad=0),
                  paper_bgcolor="white", plot_bgcolor="white",
                  showlegend=False, annotations=annotations)

fig.write_html("out.html")
